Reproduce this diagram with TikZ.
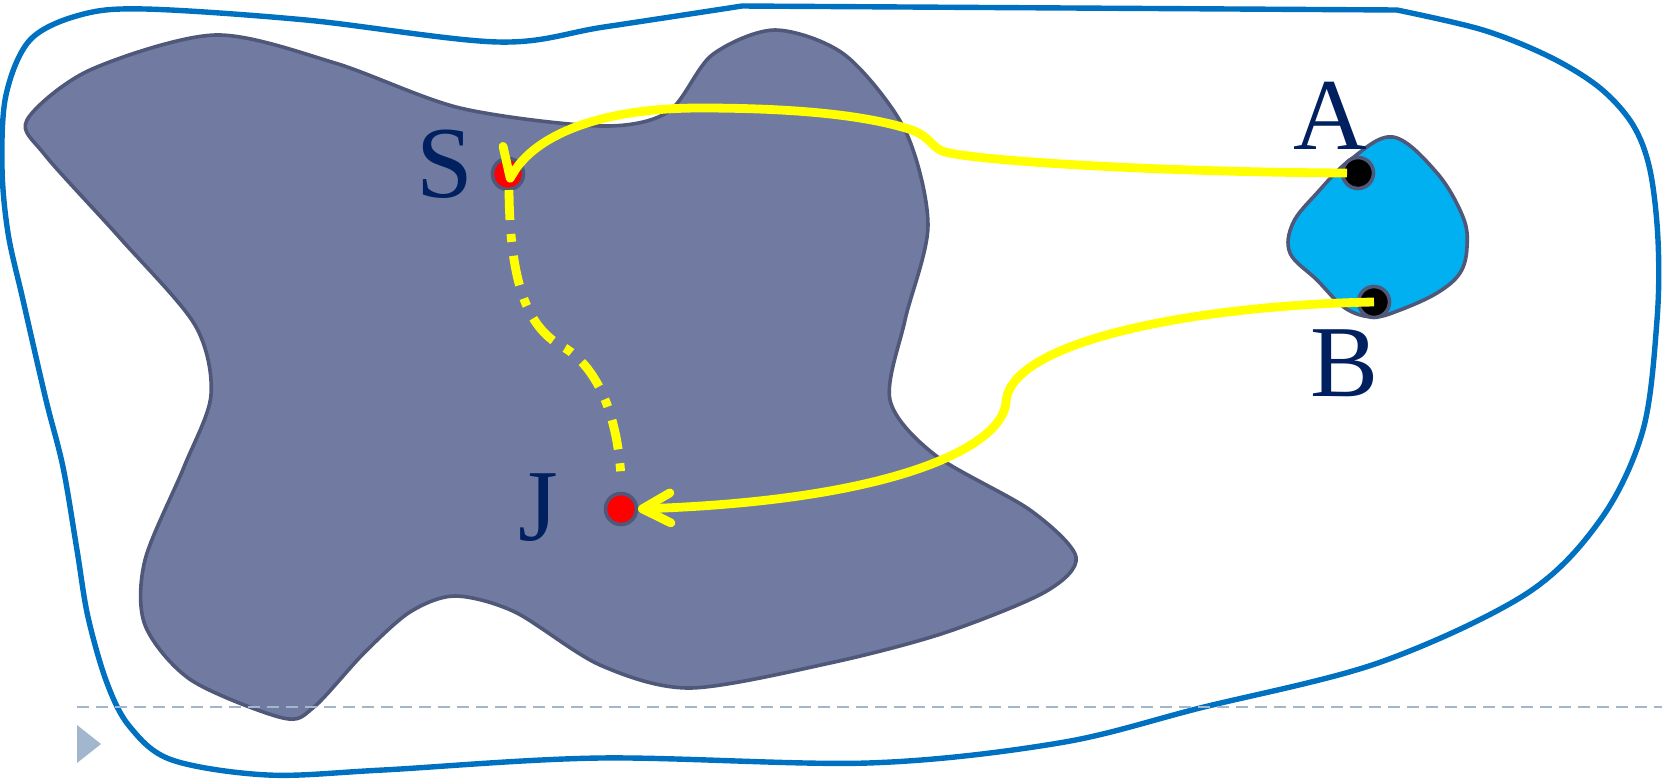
\documentclass[tikz,border=0pt]{standalone}
\usepackage{fontspec}
\setmainfont{Liberation Serif}
\usetikzlibrary{arrows.meta,calc}
\definecolor{outerblue}{HTML}{0070C0}
\definecolor{blobfill}{HTML}{717BA1}
\definecolor{blobline}{HTML}{50587A}
\definecolor{cyanfill}{HTML}{00B0F0}
\definecolor{navy}{HTML}{002060}
\definecolor{guide}{HTML}{A2B6CD}
\definecolor{ylw}{HTML}{FFFF00}
\tikzset{
  outerline/.style={draw=outerblue, line width=2.7pt},
  region/.style={fill=blobfill, draw=blobline, line width=1.8pt},
  cyanregion/.style={fill=cyanfill, draw=blobline, line width=1.8pt},
  dotbase/.style={circle, draw=blobline, line width=1.8pt, minimum size=15.5pt, inner sep=0pt},
  reddot/.style={dotbase, fill=red},
  blackdot/.style={dotbase, fill=black},
  lbl/.style={text=navy, font=\fontsize{51}{60}\selectfont, anchor=base, inner sep=0pt},
  ypath/.style={draw=ylw, line width=4.4pt},
  yarrow/.style={-{Straight Barb[round, length=14pt, width=15pt]}},
  dashdot/.style={dash pattern=on 15pt off 7pt on 4pt off 7pt},
  guideline/.style={draw=guide, line width=1.3pt, dash pattern=on 6pt off 3.5pt}
}
\begin{document}
\begin{tikzpicture}[x=0.5pt,y=-0.5pt]
\useasboundingbox (0,0) rectangle (1662,778);
% outer boundary
\draw[outerline] (1397,10) plot[smooth, tension=0.55] coordinates {
 (1397,10) (1483,30) (1550,57) (1600,88) (1633,125) (1650,170) (1658,240)
 (1657,320) (1643,430) (1601,519) (1526,594) (1378,663) (1200,708) (1059,743)
 (868,763) (600,758) (383,770) (268,775) (172,760) (130,727) (107,683)
 (88,617) (77,550) (63,467) (46,400) (23,300) (8,233) (2,167) (6,95) (30,40)
 (80,15) (145,9) (306,20) (498,42) (604,27) (742,6)} -- cycle;
% big region
\draw[region] plot[smooth cycle, tension=0.5] coordinates {
 (27,120) (90,70) (215,35) (335,63) (460,108) (600,126) (668,112) (712,55)
 (775,30) (845,55) (905,130) (928,225) (905,320) (890,400) (935,455)
 (1030,510) (1076,557) (1045,592) (944,633) (830,663) (690,688) (600,665)
 (515,612) (455,596) (410,612) (364,653) (314,707) (283,718) (191,680)
 (145,625) (145,560) (184,467) (211,395) (195,325) (120,238) (45,155)};
% small region
\draw[cyanregion] plot[smooth cycle, tension=0.6] coordinates {
 (1393,137) (1437,173) (1463,217) (1467,247) (1460,273) (1437,293) (1400,310)
 (1373,317) (1345,308) (1317,280) (1290,253) (1293,223) (1317,193) (1350,160)};
% guide
\draw[guideline] (77,707) -- (1662,707);
\fill[guide] (77,725) -- (101,744) -- (77,763) -- cycle;
% points
\node[reddot] (S) at (508,174) {};
\node[reddot] (J) at (621,509) {};
\node[blackdot] (A) at (1358,173) {};
\node[blackdot] (B) at (1374,302) {};
% labels
\node[lbl] (Slbl) at (445,197) {S};
\node[lbl] (Jlbl) at (538,540) {J};
\node[lbl] (Albl) at (1330,149) {A};
\node[lbl] (Blbl) at (1345,396) {B};
% connectors
\coordinate (Astart) at ($(A.center)+(-11,0)$);
\coordinate (Send) at ($(S.center)+(0,8)$);
\coordinate (Jend) at ($(J.center)+(17,0)$);
\coordinate (Sdash) at ($(S.center)+(1,16)$);
\coordinate (Jdash) at ($(J.center)+(0,-31)$);
\draw[ypath, -{Straight Barb[right, round, length=12pt, width=22pt]}]
  (Astart) .. controls (1150,172) and (965,160) .. (942,151)
  .. controls (932,147) and (930,137) .. (912,130)
  .. controls (860,113) and (780,108) .. (700,108)
  .. controls (600,108) and (535,135) .. (Send);
\draw[ypath, yarrow] (B.center) .. controls (1200,305) and (1010,340) .. (1006,402)
  .. controls (1003,445) and (900,500) .. (Jend);
\draw[ypath, dashdot] (Sdash) .. controls (510,290) and (530,330) .. (565,348)
  .. controls (600,370) and (618,420) .. (Jdash);
\end{tikzpicture}
\end{document}
